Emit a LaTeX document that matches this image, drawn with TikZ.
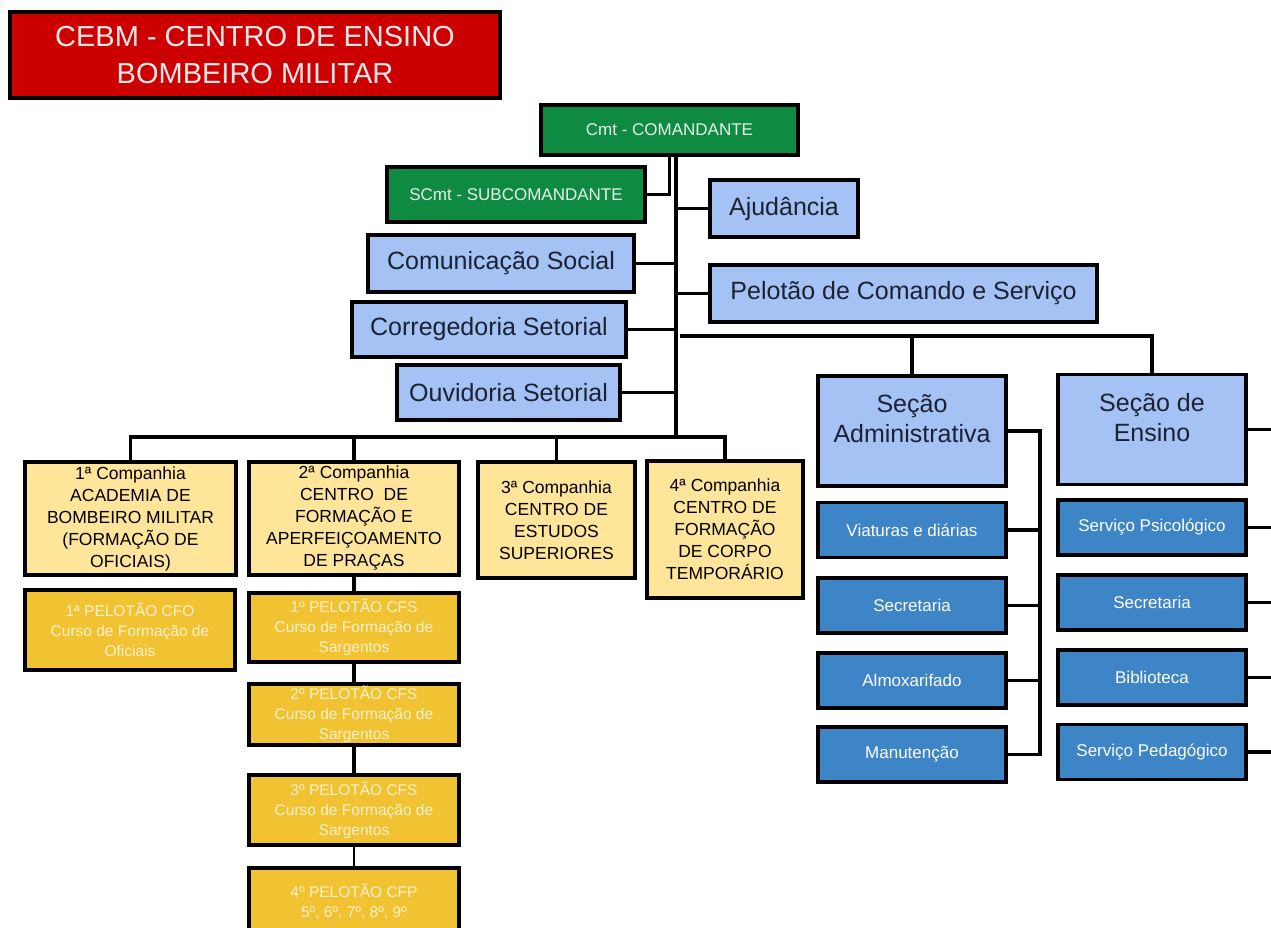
\documentclass[tikz,border=0pt]{standalone}
\usepackage{fontspec}
\setmainfont{Liberation Sans}
\usepackage{xcolor}
\definecolor{cebmred}{HTML}{CC0000}
\definecolor{titletext}{HTML}{FCE8E8}
\definecolor{cmdgreen}{HTML}{0E8A43}
\definecolor{cmdtext}{HTML}{E6F4EA}
\definecolor{staffblue}{HTML}{A4C2F4}
\definecolor{stafftext}{HTML}{1B2233}
\definecolor{ciayellow}{HTML}{FFE599}
\definecolor{pelgold}{HTML}{F1C232}
\definecolor{peltext}{HTML}{FFF2CC}
\definecolor{servblue}{HTML}{3D85C6}

\begin{document}
\begin{tikzpicture}[x=1pt, y=-1pt,
                    unit/.style={draw=black, line width=3.5pt, align=center, inner sep=0pt},
                    cmd/.style={unit, fill=cmdgreen, text=cmdtext, font=\fontsize{17}{20}\selectfont},
                    staff/.style={unit, fill=staffblue, text=stafftext, font=\fontsize{25}{29}\selectfont},
                    company/.style={unit, fill=ciayellow, text=black, font=\fontsize{17.5}{22}\selectfont,
                                    minimum height=113pt},
                    platoon/.style={unit, fill=pelgold, text=peltext, font=\fontsize{15.5}{20}\selectfont,
                                    minimum width=210pt},
                    section/.style={staff, font=\fontsize{25}{30}\selectfont, text depth=24pt,
                                    minimum width=188pt, minimum height=110pt},
                    service/.style={unit, fill=servblue, text=white, font=\fontsize{17}{20}\selectfont,
                                    minimum width=188pt, minimum height=55pt},
                    link/.style={line width=3.5pt}]
  \useasboundingbox[fill=white] (0,0) rectangle (1271,927);
  \clip (0,0) rectangle (1271,927);

  \node[unit, fill=cebmred, text=titletext, font=\fontsize{29}{37}\selectfont,
        minimum width=490pt, minimum height=86pt] (title) at (255,55)
        {CEBM - CENTRO DE ENSINO\\BOMBEIRO MILITAR};

  \node[cmd, minimum width=257pt, minimum height=50pt] (cmt) at (669.5,130) {Cmt - COMANDANTE};
  \node[cmd, minimum width=258pt, minimum height=55pt] (scmt) at (516,194.5) {SCmt - SUBCOMANDANTE};

  \node[staff, minimum width=148pt, minimum height=57pt] (ajud) at (784,208.5) {Ajudância};
  \node[staff, minimum width=266pt, minimum height=57pt] (comsoc) at (501,263.5) {Comunicação Social};
  \node[staff, minimum width=387pt, minimum height=57pt] (pelcmd) at (903.5,293.5) {Pelotão de Comando e Serviço};
  \node[staff, minimum width=274pt, minimum height=55pt] (correg) at (489,329.5) {Corregedoria Setorial};
  \node[staff, minimum width=223pt, minimum height=55pt] (ouvid) at (508.5,392.5) {Ouvidoria Setorial};

  \node[company, minimum width=211pt] (cia1) at (130.5,518.5)
    {1ª Companhia\\ACADEMIA DE\\BOMBEIRO MILITAR\\(FORMAÇÃO DE\\OFICIAIS)};
  \node[company, minimum width=210pt] (cia2) at (354,518.5)
    {2ª Companhia\\CENTRO\ \ DE\\FORMAÇÃO E\\APERFEIÇOAMENTO\\DE PRAÇAS};
  \node[company, minimum width=157pt, minimum height=116pt] (cia3) at (556.5,520)
    {3ª Companhia\\CENTRO DE\\ESTUDOS\\SUPERIORES};
  \node[company, minimum width=156pt, minimum height=137pt] (cia4) at (725,529.5)
    {4ª Companhia\\CENTRO DE\\FORMAÇÃO\\DE CORPO\\TEMPORÁRIO};

  \node[platoon, minimum height=80pt] (cfo) at (130,630) {1ª PELOTÃO CFO\\Curso de Formação de\\Oficiais};
  \node[platoon, minimum height=69pt] (cfs1) at (354,627.5) {1º PELOTÃO CFS\\Curso de Formação de\\Sargentos};
  \node[platoon, minimum height=61pt] (cfs2) at (354,714.5) {2º PELOTÃO CFS\\Curso de Formação de\\Sargentos};
  \node[platoon, minimum height=70pt] (cfs3) at (354,810) {3º PELOTÃO CFS\\Curso de Formação de\\Sargentos};
  \node[platoon, minimum height=67pt] (cfp4) at (354,901.5) {4º PELOTÃO CFP\\5º, 6º, 7º, 8º, 9º};

  \node[section] (secadm) at (912,431) {Seção\\Administrativa};
  \node[section] (secens) at (1152,429.5) {Seção de\\Ensino};

  \node[service] (viat) at (912,530) {Viaturas e diárias};
  \node[service] (secradm) at (912,605.5) {Secretaria};
  \node[service] (almox) at (912,680.5) {Almoxarifado};
  \node[service] (manut) at (912,754.5) {Manutenção};

  \node[service] (psico) at (1152,527.5) {Serviço Psicológico};
  \node[service] (secrens) at (1152,602.5) {Secretaria};
  \node[service] (bibl) at (1152,677.5) {Biblioteca};
  \node[service] (pedag) at (1152,752) {Serviço Pedagógico};

  \coordinate (spine) at (676,437);
  \coordinate (secbar) at (680,336);
  \coordinate (admbus) at (1040,0);
  \coordinate (edge) at (1280,0);

  \draw[link] (cmt.south) |- (scmt.east);
  \draw[link] (cmt.south -| spine) -- (spine);
  \foreach \n in {ajud, pelcmd}
    \draw[link] (\n.west) -- (\n.west -| spine);
  \foreach \n in {comsoc, correg, ouvid}
    \draw[link] (\n.east) -- (\n.east -| spine);

  \draw[link] (secbar) -| (secadm.north);
  \draw[link] (secbar) -| (secens.north);

  \foreach \n in {cia1, cia2, cia3, cia4}
    \draw[link] (spine) -| (\n.north);
  \draw[link] (cia2) -- (cfs1) -- (cfs2) -- (cfs3);
  \draw[line width=1.2pt] (cfs3) -- (cfp4);

  \draw[link] (secadm.east) -- (secadm.east -| admbus) |- (manut.east);
  \foreach \n in {viat, secradm, almox}
    \draw[link] (\n.east) -- (\n.east -| admbus);
  \foreach \n in {secens, psico, secrens, bibl, pedag}
    \draw[link] (\n.east) -- (\n.east -| edge);
\end{tikzpicture}
\end{document}
